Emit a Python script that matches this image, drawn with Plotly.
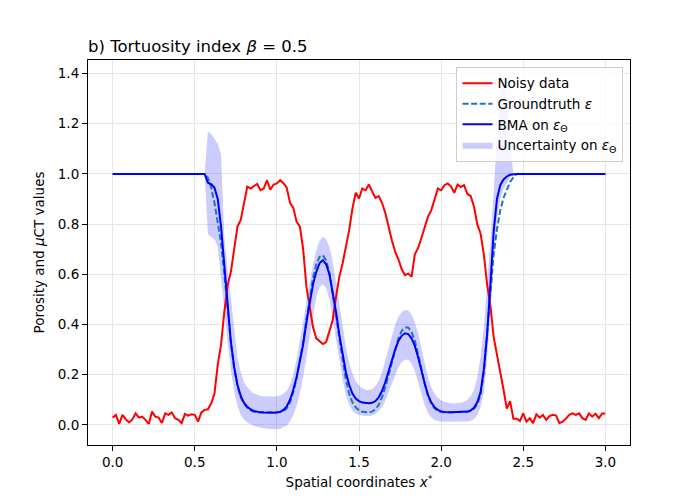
"""Tortuosity panel (b): noisy porosity profile, groundtruth and the BMA fit with its band.

Plotly only. Values read off the reference figure.
"""

import numpy as np
import plotly.graph_objects as go

FONT = "DejaVu Sans"
PAGE_PAD = 8  # the html body margin the figure div sits in

# --- noisy data, sampled every 0.02 on [0, 3]
X_NOISY = np.round(np.linspace(0.0, 3.0, 151), 2)
NOISY = [
    0.029, 0.040, 0.004, 0.040, 0.022, 0.010, 0.022, 0.046, 0.029, 0.033,
    0.020, 0.004, 0.053, 0.033, 0.029, 0.008, 0.046, 0.040, 0.050, 0.027,
    0.020, 0.007, 0.044, 0.037, 0.042, 0.040, 0.013, 0.050, 0.060, 0.062,
    0.085, 0.125, 0.240, 0.320, 0.450, 0.556, 0.610, 0.700, 0.790, 0.817,
    0.885, 0.950, 0.942, 0.950, 0.960, 0.935, 0.942, 0.975, 0.937, 0.958,
    0.962, 0.975, 0.963, 0.945, 0.885, 0.865, 0.810, 0.790, 0.700, 0.550,
    0.460, 0.390, 0.345, 0.335, 0.322, 0.330, 0.378, 0.418, 0.510, 0.590,
    0.643, 0.710, 0.776, 0.862, 0.925, 0.902, 0.942, 0.935, 0.958, 0.930,
    0.905, 0.912, 0.885, 0.845, 0.785, 0.736, 0.690, 0.660, 0.620, 0.597,
    0.603, 0.590, 0.680, 0.705, 0.745, 0.790, 0.830, 0.855, 0.900, 0.942,
    0.935, 0.955, 0.962, 0.950, 0.925, 0.958, 0.948, 0.955, 0.920, 0.912,
    0.870, 0.800, 0.763, 0.680, 0.560, 0.475, 0.350, 0.285, 0.219, 0.140,
    0.065, 0.095, 0.025, 0.025, 0.016, 0.046, 0.013, 0.027, 0.007, 0.042,
    0.029, 0.040, 0.020, 0.035, 0.040, 0.037, 0.007, 0.013, 0.025, 0.040,
    0.046, 0.040, 0.046, 0.027, 0.020, 0.046, 0.033, 0.045, 0.027, 0.046,
    0.046,
]

# --- smooth curves: x = 0, then 0.56 .. 2.46 every 0.02, then 3
X_FIT = np.round(np.concatenate([[0.0], np.arange(0.56, 2.4601, 0.02), [3.0]]), 2)
GROUNDTRUTH = [1.0,
    1.0, 0.985, 0.945, 0.885, 0.81, 0.725, 0.60, 0.45, 0.33, 0.225,
    0.155, 0.11, 0.085, 0.068, 0.058, 0.052, 0.05, 0.05, 0.05, 0.05,
    0.05, 0.05, 0.05, 0.051, 0.055, 0.066, 0.09, 0.13, 0.185, 0.25,
    0.33, 0.42, 0.51, 0.585, 0.64, 0.67, 0.676, 0.655, 0.605, 0.53,
    0.44, 0.345, 0.255, 0.18, 0.125, 0.09, 0.07, 0.058, 0.052, 0.05,
    0.05, 0.053, 0.062, 0.08, 0.11, 0.15, 0.2, 0.255, 0.305, 0.345,
    0.375, 0.388, 0.388, 0.37, 0.335, 0.285, 0.225, 0.165, 0.115, 0.085,
    0.066, 0.056, 0.051, 0.05, 0.05, 0.05, 0.05, 0.05, 0.05, 0.05,
    0.052, 0.056, 0.064, 0.082, 0.12, 0.21, 0.36, 0.54, 0.68, 0.78,
    0.855, 0.905, 0.94, 0.968, 0.987, 1.0,
    1.0]
BMA = [1.0,
    1.0, 0.965, 0.96, 0.945, 0.90, 0.79, 0.63, 0.46, 0.33, 0.23,
    0.16, 0.115, 0.088, 0.072, 0.062, 0.056, 0.052, 0.05, 0.049, 0.048,
    0.048, 0.048, 0.049, 0.052, 0.06, 0.074, 0.10, 0.14, 0.19, 0.25,
    0.32, 0.41, 0.49, 0.56, 0.61, 0.645, 0.656, 0.64, 0.60, 0.53,
    0.45, 0.36, 0.28, 0.21, 0.16, 0.125, 0.105, 0.095, 0.089, 0.086,
    0.086, 0.088, 0.095, 0.11, 0.135, 0.17, 0.215, 0.26, 0.30, 0.335,
    0.355, 0.365, 0.362, 0.345, 0.315, 0.27, 0.215, 0.165, 0.12, 0.09,
    0.07, 0.06, 0.054, 0.051, 0.05, 0.05, 0.05, 0.05, 0.05, 0.051,
    0.053, 0.058, 0.068, 0.09, 0.13, 0.22, 0.36, 0.56, 0.77, 0.90,
    0.955, 0.978, 0.99, 0.997, 1.0, 1.0,
    1.0]
BAND_LO = [1.0,
    1.0, 0.76, 0.75, 0.74, 0.71, 0.57, 0.46, 0.33, 0.22, 0.135,
    0.075, 0.04, 0.022, 0.01, 0.002, -0.004, -0.008, -0.011, -0.013, -0.015,
    -0.016, -0.017, -0.017, -0.015, -0.01, -0.002, 0.014, 0.04, 0.075, 0.125,
    0.19, 0.27, 0.36, 0.44, 0.51, 0.55, 0.56, 0.545, 0.50, 0.425,
    0.34, 0.255, 0.18, 0.12, 0.08, 0.056, 0.045, 0.04, 0.037, 0.036,
    0.036, 0.038, 0.044, 0.055, 0.07, 0.095, 0.13, 0.165, 0.2, 0.23,
    0.25, 0.26, 0.26, 0.245, 0.215, 0.17, 0.12, 0.078, 0.048, 0.03,
    0.02, 0.016, 0.014, 0.013, 0.013, 0.013, 0.013, 0.013, 0.013, 0.013,
    0.014, 0.017, 0.024, 0.04, 0.07, 0.13, 0.26, 0.45, 0.66, 0.82,
    0.90, 0.94, 0.965, 0.985, 1.0, 1.0,
    1.0]
BAND_HI = [1.0,
    1.0, 1.17, 1.16, 1.14, 1.12, 1.08, 0.75, 0.62, 0.50, 0.37,
    0.27, 0.21, 0.17, 0.15, 0.135, 0.125, 0.12, 0.116, 0.114, 0.113,
    0.113, 0.113, 0.114, 0.117, 0.124, 0.136, 0.16, 0.2, 0.26, 0.33,
    0.41, 0.49, 0.57, 0.64, 0.695, 0.735, 0.75, 0.74, 0.71, 0.65,
    0.57, 0.48, 0.39, 0.31, 0.25, 0.205, 0.175, 0.158, 0.146, 0.14,
    0.139, 0.143, 0.155, 0.175, 0.21, 0.255, 0.305, 0.355, 0.40, 0.43,
    0.45, 0.458, 0.456, 0.44, 0.41, 0.365, 0.305, 0.245, 0.19, 0.15,
    0.125, 0.108, 0.098, 0.092, 0.088, 0.086, 0.086, 0.086, 0.088, 0.092,
    0.1, 0.115, 0.14, 0.19, 0.27, 0.39, 0.55, 0.73, 0.93, 1.15,
    1.30, 1.38, 1.30, 1.12, 1.0, 1.0,
    1.0]

X_TICKS = [0.0, 0.5, 1.0, 1.5, 2.0, 2.5, 3.0]
Y_TICKS = [0.0, 0.2, 0.4, 0.6, 0.8, 1.0, 1.2, 1.4]

assert len(NOISY) == len(X_NOISY)
for arr in (GROUNDTRUTH, BMA, BAND_LO, BAND_HI):
    assert len(arr) == len(X_FIT), len(arr)


def build_figure() -> go.Figure:
    fig = go.Figure()

    # band first so the lines sit on top of it (legend puts it last)
    fig.add_trace(go.Scatter(
        x=X_FIT, y=BAND_LO, mode="lines", line=dict(width=0),
        hoverinfo="skip", showlegend=False,
    ))
    fig.add_trace(go.Scatter(
        x=X_FIT, y=BAND_HI, mode="lines", line=dict(width=0),
        fill="tonexty", fillcolor="rgba(0,0,255,0.2)",
        name="Uncertainty on <i>ε</i><sub>Θ</sub>", legendrank=4,
    ))
    fig.add_trace(go.Scatter(
        x=X_NOISY, y=NOISY, mode="lines", line=dict(color="#ff0000", width=2),
        name="Noisy data", legendrank=1,
    ))
    fig.add_trace(go.Scatter(
        x=X_FIT, y=GROUNDTRUTH, mode="lines",
        line=dict(color="#1f77b4", width=2, dash="6px,2.6px"),
        name="Groundtruth <i>ε</i>", legendrank=2,
    ))
    fig.add_trace(go.Scatter(
        x=X_FIT, y=BMA, mode="lines", line=dict(color="#0000ff", width=2),
        name="BMA on <i>ε</i><sub>Θ</sub>", legendrank=3,
    ))

    axis = dict(
        showline=True, mirror=True, linecolor="black", linewidth=1.1,
        ticks="outside", ticklen=5, tickwidth=1.1, tickcolor="black",
        showgrid=True, gridcolor="#e6e6e6", gridwidth=0.8, zeroline=False,
        tickfont=dict(family=FONT, size=13.5, color="black"),
        tickformat=".1f",
    )
    fig.update_xaxes(
        **axis, range=[-0.15, 3.15], tickvals=X_TICKS,
        title=dict(text="Spatial coordinates <i>x</i><sup>*</sup>",
                   font=dict(family=FONT, size=13.5, color="black"), standoff=8),
    )
    fig.update_yaxes(
        **axis, range=[-0.08, 1.454], tickvals=Y_TICKS,
        title=dict(text="Porosity and <i>μ</i>CT values",
                   font=dict(family=FONT, size=13.5, color="black"), standoff=10),
    )

    p = PAGE_PAD
    fig.update_layout(
        width=700, height=500,
        paper_bgcolor="white", plot_bgcolor="white",
        margin=dict(l=88 - p, r=70 + p, t=60 - p, b=55 + p),
        title=dict(text="b) Tortuosity index <i>β</i> = 0.5",
                   font=dict(family=FONT, size=16.5, color="black"),
                   x=(88 - p) / 700, xanchor="left", xref="container",
                   y=1 - (46 - p) / 500, yanchor="middle", yref="container"),
        legend=dict(
            x=0.988, y=0.982, xanchor="right", yanchor="top",
            traceorder="normal",
            bgcolor="rgba(255,255,255,0.8)", bordercolor="#cccccc", borderwidth=1,
            font=dict(family=FONT, size=13.5, color="black"),
            itemwidth=30,
        ),
        font=dict(family=FONT),
    )
    return fig


if __name__ == "__main__":
    fig = build_figure()
    fig.write_html("out.html")
